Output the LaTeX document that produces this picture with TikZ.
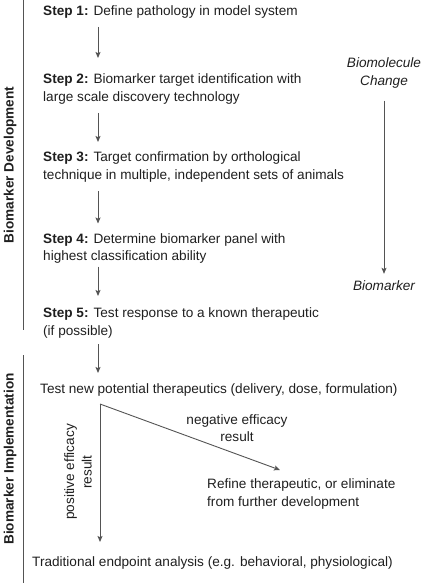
\documentclass[tikz,border=0pt]{standalone}
\usepackage{fontspec}
\setmainfont{Liberation Sans}
\usetikzlibrary{arrows.meta}
\definecolor{ink}{gray}{0.12}
\definecolor{linegray}{gray}{0.33}
\begin{document}
\begin{tikzpicture}[x=1pt,y=-1pt,
  txt/.style={inner sep=0pt,anchor=west,align=left,text=ink,font=\fontsize{13.6}{17.5}\selectfont},
  ctxt/.style={inner sep=0pt,align=center,text=ink,font=\fontsize{13.6}{17.5}\selectfont},
  itxt/.style={inner sep=0pt,align=center,text=ink,font=\fontsize{13.6}{18}\selectfont\itshape},
  side/.style={inner sep=0pt,rotate=90,text=ink,font=\fontsize{13.6}{18}\selectfont\bfseries},
  arr/.style={draw=linegray,line width=0.9pt,-{Stealth[length=6pt,width=5pt,inset=1.2pt]}},
  bar/.style={draw=linegray,line width=0.9pt}]
\useasboundingbox (0,0) rectangle (422,583);
% steps
\node[txt] (s1) at (43,12) {\textbf{Step 1:} Define pathology in model system};
\node[txt] (s2) at (43,89) {\textbf{Step 2:} Biomarker target identification with\\large scale discovery technology};
\node[txt] (s3) at (43,167) {\textbf{Step 3:} Target confirmation by orthological\\technique in multiple, independent sets of animals};
\node[txt] (s4) at (43,248.5) {\textbf{Step 4:} Determine biomarker panel with\\highest classification ability};
\node[txt] (s5) at (43,323) {\textbf{Step 5:} Test response to a known therapeutic\\(if possible)};
\node[txt] (t1) at (40,390) {Test new potential therapeutics (delivery, dose, formulation)};
\node[txt] (rf) at (207,494) {Refine therapeutic, or eliminate\\from further development};
\node[txt] (tr) at (32,563) {Traditional endpoint analysis (e.g. behavioral, physiological)};
% branch labels
\node[ctxt] (neg) at (237,428) {negative efficacy\\result};
\node[ctxt,rotate=90] (pos) at (78,472) {positive efficacy\\result};
% step arrows
\draw[arr] ([xshift=55pt,yshift=-15pt]s1.west) -- ([xshift=55pt,yshift=31pt]s2.west);
\draw[arr] ([xshift=55pt,yshift=-24pt]s2.west) -- ([xshift=55pt,yshift=25pt]s3.west);
\draw[arr] ([xshift=55pt,yshift=-24pt]s3.west) -- ([xshift=55pt,yshift=25pt]s4.west);
\draw[arr] ([xshift=55pt,yshift=-18pt]s4.west) -- ([xshift=55pt,yshift=27pt]s5.west);
\draw[arr] ([xshift=55pt,yshift=-21pt]s5.west) -- ([xshift=58pt,yshift=17pt]t1.west);
% branches
\draw[arr] ([xshift=60pt,yshift=-14pt]t1.west) -- ([xshift=73pt,yshift=24pt]rf.west);
\draw[arr] ([xshift=60pt,yshift=-14pt]t1.west) -- ([xshift=68pt,yshift=21pt]tr.west);
% side labels and bars
\node[side] (dev) at (10,165) {Biomarker Development};
\node[side] (imp) at (10,459) {Biomarker Implementation};
\coordinate (d1) at (23,0);
\coordinate (d2) at (23,330);
\coordinate (i1) at (23,355);
\coordinate (i2) at (23,583);
\draw[bar] (d1) -- (d2);
\draw[bar] (i1) -- (i2);
% right column
\node[itxt] (bc) at (384,73) {Biomolecule\\Change};
\node[itxt] (bm) at (384,286) {Biomarker};
\draw[arr] ([yshift=-12pt]bc.south) -- ([yshift=7pt]bm.north);
\end{tikzpicture}
\end{document}
